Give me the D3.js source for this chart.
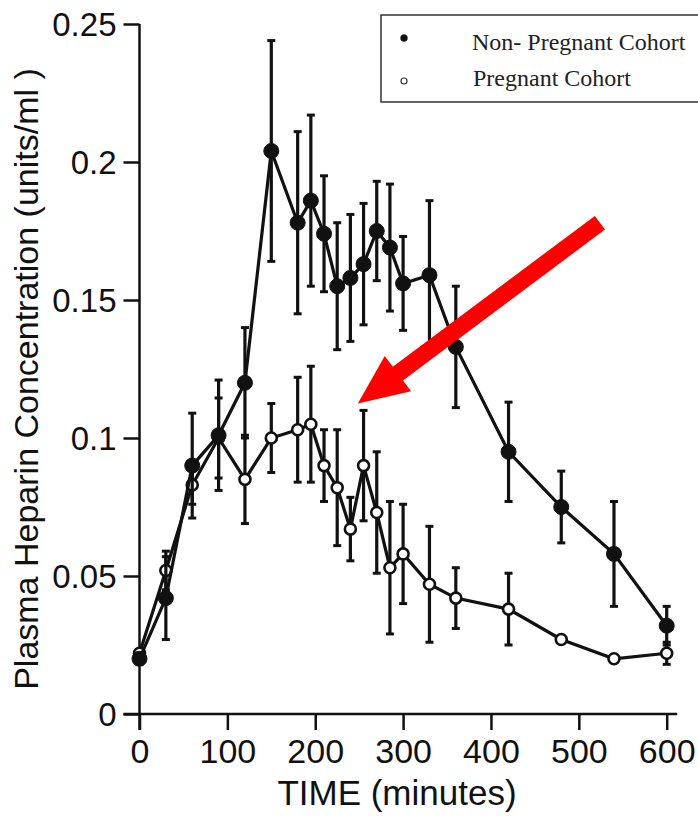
<!DOCTYPE html>
<html>
<head>
<meta charset="utf-8">
<script src="https://cdn.jsdelivr.net/npm/d3@7"></script>
<style>
    body { margin: 0; background: #fff; }
    #chart-area { width: 698px; height: 816px; }
    .axis text { font-family: "Liberation Sans", Arial, sans-serif; fill: #111; }
    .axis line { stroke: #111; stroke-width: 2.5; }
    .legend text { font-family: "Liberation Serif", "Times New Roman", serif; font-size: 24px; fill: #222; }
</style>
</head>
<body>
<div id="chart-area"></div>
<script>
// sampling times (minutes)
const times = [0, 30, 60, 90, 120, 150, 180, 195, 210, 225, 240, 255, 270, 285, 300, 330, 360, 420, 480, 540, 600];

// Non-pregnant cohort, mean and error (units/ml)
const nonPregnant = [0.020, 0.042, 0.090, 0.101, 0.120, 0.204, 0.178, 0.186, 0.174, 0.155, 0.158, 0.163, 0.175, 0.169, 0.156, 0.159, 0.133, 0.095, 0.075, 0.058, 0.032];
const nonPregnantErr = [0.002, 0.015, 0.019, 0.020, 0.020, 0.040, 0.033, 0.031, 0.021, 0.023, 0.023, 0.022, 0.018, 0.023, 0.017, 0.027, 0.022, 0.018, 0.013, 0.019, 0.007];

// Pregnant cohort
const pregnant = [0.022, 0.052, 0.083, 0.100, 0.085, 0.100, 0.103, 0.105, 0.090, 0.082, 0.067, 0.090, 0.073, 0.053, 0.058, 0.047, 0.042, 0.038, 0.027, 0.020, 0.022];
const pregnantErr = [0, 0.007, 0.007, 0.0145, 0.016, 0.0125, 0.019, 0.021, 0.013, 0.021, 0.0115, 0.020, 0.022, 0.024, 0.018, 0.021, 0.011, 0.013, 0, 0, 0.004];

const xTicks = [0, 100, 200, 300, 400, 500, 600];
const yTicks = [0, 0.05, 0.1, 0.15, 0.2, 0.25];
const yTickLabels = ["0", "0.05", "0.1", "0.15", "0.2", "0.25"];

const seriesNames = ["Non- Pregnant Cohort", "Pregnant Cohort"];

// red annotation arrow, in data units (tail -> tip)
const arrowTail = [524, 0.178];
const arrowTip = [248.5, 0.1125];

class HeparinChart {
    constructor(parentElement) {
        this.parentElement = parentElement;
        this.initVis();
    }

    initVis() {
        let vis = this;

        vis.width = 698;
        vis.height = 816;

        vis.svg = d3.select(`#${vis.parentElement}`)
            .append("svg")
            .attr("width", vis.width)
            .attr("height", vis.height);

        vis.svg.append("rect")
            .attr("width", vis.width)
            .attr("height", vis.height)
            .attr("fill", "#fff");

        vis.x = d3.scaleLinear()
            .domain([0, 600])
            .range([139.5, 666.7]);
        vis.y = d3.scaleLinear()
            .domain([0, 0.25])
            .range([714, 24]);

        vis.series = [
            { name: seriesNames[1], values: pregnant, err: pregnantErr, filled: false },
            { name: seriesNames[0], values: nonPregnant, err: nonPregnantErr, filled: true }
        ].map(s => ({
            ...s,
            points: times.map((t, i) => ({ t: t, v: s.values[i], e: s.err[i] }))
        }));

        vis.drawAxes();
        vis.updateVis();
        vis.drawLegend();
        vis.drawArrow();
    }

    drawAxes() {
        let vis = this;

        const xAxis = d3.axisBottom(vis.x)
            .tickValues(xTicks)
            .tickSize(16)
            .tickSizeOuter(0)
            .tickPadding(9);
        const yAxis = d3.axisLeft(vis.y)
            .tickValues(yTicks)
            .tickFormat((d, i) => yTickLabels[i])
            .tickSize(16)
            .tickSizeOuter(0)
            .tickPadding(7);

        const xg = vis.svg.append("g")
            .attr("class", "axis x-axis")
            .attr("transform", `translate(0,${vis.y(0)})`)
            .call(xAxis);
        xg.select(".domain").remove();
        xg.selectAll("text").attr("font-size", 34);

        const yg = vis.svg.append("g")
            .attr("class", "axis y-axis")
            .attr("transform", `translate(${vis.x(0)},0)`)
            .call(yAxis);
        yg.select(".domain").remove();
        yg.selectAll("text").attr("font-size", 33).attr("dy", "0.36em");

        // axis lines
        vis.svg.append("line")
            .attr("x1", vis.x(0)).attr("x2", vis.x(0))
            .attr("y1", vis.y(0.25)).attr("y2", vis.y(0) + 16)
            .attr("stroke", "#111").attr("stroke-width", 2.5);
        vis.svg.append("line")
            .attr("x1", vis.x(0) - 16).attr("x2", vis.x(612))
            .attr("y1", vis.y(0)).attr("y2", vis.y(0))
            .attr("stroke", "#111").attr("stroke-width", 2.5);

        vis.svg.append("text")
            .attr("class", "x-axis-label")
            .attr("x", 397)
            .attr("y", 805)
            .attr("text-anchor", "middle")
            .attr("font-family", "Liberation Sans, Arial, sans-serif")
            .attr("font-size", 35)
            .attr("fill", "#111")
            .text("TIME (minutes)");

        vis.svg.append("text")
            .attr("class", "y-axis-label")
            .attr("transform", "translate(38,379) rotate(-90)")
            .attr("text-anchor", "middle")
            .attr("font-family", "Liberation Sans, Arial, sans-serif")
            .attr("font-size", 34)
            .attr("fill", "#111")
            .text("Plasma Heparin Concentration (units/ml )");
    }

    updateVis() {
        let vis = this;

        const line = d3.line()
            .x(d => vis.x(d.t))
            .y(d => vis.y(d.v));

        const groups = vis.svg.selectAll(".series")
            .data(vis.series)
            .enter()
            .append("g")
            .attr("class", "series");

        // error bars
        groups.each(function(s) {
            const g = d3.select(this);
            const bars = s.points.filter(d => d.e > 0);
            g.selectAll(".err")
                .data(bars)
                .enter()
                .append("line")
                .attr("class", "err")
                .attr("x1", d => vis.x(d.t)).attr("x2", d => vis.x(d.t))
                .attr("y1", d => vis.y(d.v - d.e)).attr("y2", d => vis.y(d.v + d.e))
                .attr("stroke", "#111").attr("stroke-width", 3.2);
            [1, -1].forEach(sign => {
                g.selectAll(`.cap${sign}`)
                    .data(bars)
                    .enter()
                    .append("line")
                    .attr("class", `cap${sign}`)
                    .attr("x1", d => vis.x(d.t) - 4).attr("x2", d => vis.x(d.t) + 4)
                    .attr("y1", d => vis.y(d.v + sign * d.e)).attr("y2", d => vis.y(d.v + sign * d.e))
                    .attr("stroke", "#111").attr("stroke-width", 3);
            });
        });

        groups.append("path")
            .attr("d", s => line(s.points))
            .attr("fill", "none")
            .attr("stroke", "#111")
            .attr("stroke-width", 3.2);

        groups.each(function(s) {
            d3.select(this).selectAll(".pt")
                .data(s.points)
                .enter()
                .append("circle")
                .attr("class", "pt")
                .attr("cx", d => vis.x(d.t))
                .attr("cy", d => vis.y(d.v))
                .attr("r", s.filled ? 7.5 : 5.5)
                .attr("fill", s.filled ? "#111" : "#fff")
                .attr("stroke", "#111")
                .attr("stroke-width", s.filled ? 1 : 2.6);
        });
    }

    drawLegend() {
        let vis = this;

        const legend = vis.svg.append("g")
            .attr("class", "legend");

        legend.append("rect")
            .attr("x", 381)
            .attr("y", 15)
            .attr("width", 330)
            .attr("height", 87)
            .attr("fill", "#fff")
            .attr("stroke", "#333")
            .attr("stroke-width", 1.5);

        const rows = [
            { name: seriesNames[0], filled: true, cy: 38, ty: 50, tx: 472 },
            { name: seriesNames[1], filled: false, cy: 81, ty: 86, tx: 473 }
        ];

        legend.selectAll("circle")
            .data(rows)
            .enter()
            .append("circle")
            .attr("cx", 404)
            .attr("cy", d => d.cy)
            .attr("r", d => d.filled ? 3.5 : 3)
            .attr("fill", d => d.filled ? "#111" : "#fff")
            .attr("stroke", "#333")
            .attr("stroke-width", d => d.filled ? 0.5 : 1.2);

        legend.selectAll("text")
            .data(rows)
            .enter()
            .append("text")
            .attr("x", d => d.tx)
            .attr("y", d => d.ty)
            .text(d => d.name);
    }

    drawArrow() {
        let vis = this;

        const x0 = vis.x(arrowTail[0]), y0 = vis.y(arrowTail[1]);
        const x1 = vis.x(arrowTip[0]), y1 = vis.y(arrowTip[1]);
        const len = Math.hypot(x1 - x0, y1 - y0);
        const ux = (x1 - x0) / len, uy = (y1 - y0) / len;
        const px = -uy, py = ux;
        const headLen = 50, headHalf = 22, shaftHalf = 8.5;
        const bx = x1 - ux * headLen, by = y1 - uy * headLen;

        const pts = [
            [x0 + px * shaftHalf, y0 + py * shaftHalf],
            [bx + px * shaftHalf, by + py * shaftHalf],
            [bx + px * headHalf, by + py * headHalf],
            [x1, y1],
            [bx - px * headHalf, by - py * headHalf],
            [bx - px * shaftHalf, by - py * shaftHalf],
            [x0 - px * shaftHalf, y0 - py * shaftHalf]
        ];

        vis.svg.append("path")
            .attr("class", "arrow")
            .attr("d", d3.line()(pts) + "Z")
            .attr("fill", "#f00");
    }
}

new HeparinChart("chart-area");
</script>
</body>
</html>
